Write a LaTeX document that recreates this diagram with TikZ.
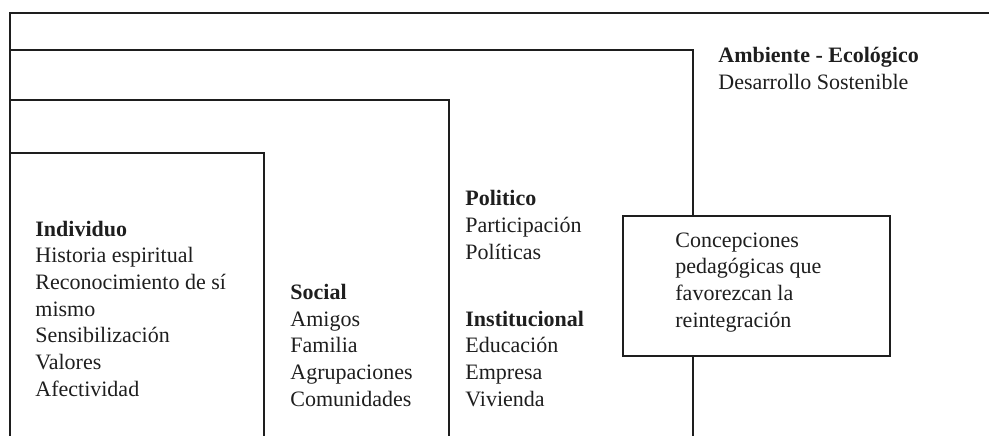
\documentclass[tikz,border=0pt]{standalone}
\usepackage{fontspec}
\setmainfont{Liberation Serif}
\definecolor{ink}{HTML}{1E1E1E}
\tikzset{
  frame/.style={draw=ink, line width=1.1pt, line join=miter},
  txt/.style={anchor=base west, align=left, inner sep=0pt, text=ink,
    font=\fontsize{11}{13.33}\selectfont},
}
\begin{document}
\begin{tikzpicture}[x=0.5pt, y=-0.5pt]
\useasboundingbox (0,0) rectangle (989,435);
% nested open frames
\draw[frame] (989,13) -- (10,13) -- (10,436);
\draw[frame] (10,50) -- (693,50) -- (693,436);
\draw[frame] (10,100) -- (449,100) -- (449,436);
\draw[frame] (10,153) -- (264,153) -- (264,436);
% central box
\node[frame, fill=white, anchor=north west, minimum width=133.5pt, minimum height=70pt, inner sep=0pt] (box) at (622,215) {};
% texts (anchor = baseline of last line)
\node[txt] (ind) at (35,396) {\textbf{Individuo}\\Historia espiritual\\Reconocimiento de sí\\mismo\\Sensibilización\\Valores\\Afectividad};
\node[txt] (soc) at (290,406) {\textbf{Social}\\Amigos\\Familia\\Agrupaciones\\Comunidades};
\node[txt] (pol) at (465,259) {\textbf{Politico}\\Participación\\Políticas};
\node[txt] (ins) at (465,406) {\textbf{Institucional}\\Educación\\Empresa\\Vivienda};
\node[txt] (amb) at (718,89) {\textbf{Ambiente - Ecológico}\\Desarrollo Sostenible};
\node[txt] (con) at (675,327) {Concepciones\\pedagógicas que\\favorezcan la\\reintegración};
\end{tikzpicture}
\end{document}
